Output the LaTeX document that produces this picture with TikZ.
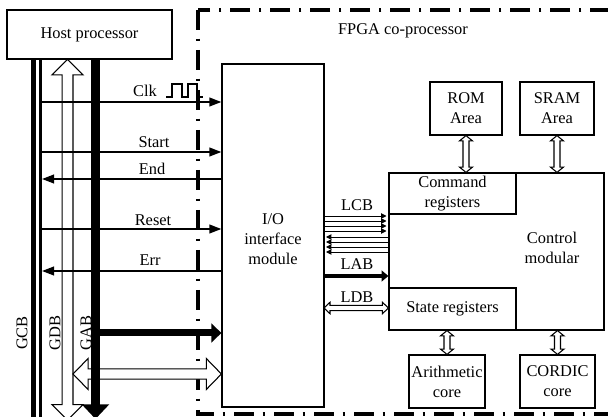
\documentclass[tikz,border=0pt]{standalone}
\usepackage{fontspec}
\setmainfont{Liberation Serif}
\usetikzlibrary{arrows.meta,calc}
\newcommand\hollowV[5]{%
  \draw[line width=0.8pt, fill=white] let \p1=(#1), \p2=(#2) in
  (\x1,\y1) -- (\x1+#4,\y1-#5) -- (\x1+#3,\y1-#5) -- (\x2+#3,\y2+#5) -- (\x2+#4,\y2+#5) -- (\x2,\y2)
  -- (\x2-#4,\y2+#5) -- (\x2-#3,\y2+#5) -- (\x1-#3,\y1-#5) -- (\x1-#4,\y1-#5) -- cycle;}
\newcommand\hollowH[5]{%
  \draw[line width=0.8pt, fill=white] let \p1=(#1), \p2=(#2) in
  (\x1,\y1) -- (\x1+#5,\y1+#4) -- (\x1+#5,\y1+#3) -- (\x2-#5,\y2+#3) -- (\x2-#5,\y2+#4) -- (\x2,\y2)
  -- (\x2-#5,\y2-#4) -- (\x2-#5,\y2-#3) -- (\x1+#5,\y1-#3) -- (\x1+#5,\y1-#4) -- cycle;}
\begin{document}
\begin{tikzpicture}[x=0.75pt,y=-0.75pt,
  font=\fontsize{12.3}{15}\selectfont,
  box/.style={draw, line width=0.9pt, inner sep=0pt, align=center, fill=white},
  lbl/.style={inner sep=0pt, align=center},
  sig/.style={line width=1.4pt},
  tipR/.style={-{Triangle[length=9pt,width=6.5pt]}},
  small/.style={line width=0.7pt, -{Triangle[length=4pt,width=4pt]}},
  frame/.style={line width=2.6pt, dash pattern=on 15pt off 6.5pt on 2pt off 6.5pt}]
\useasboundingbox (0,0) rectangle (608,417);

% FPGA frame
\draw[frame] (198,10) rectangle (640,414);
\node[lbl] (fpgal) at (403,31) {FPGA co-processor};

% boxes
\node[box, minimum width=123.75pt, minimum height=36.75pt] (host) at (89.5,34.5) {Host processor};
\node[box, minimum width=76.5pt, minimum height=257.25pt] (io) at (273,235.5) {};
\node[lbl] (iol) at (273,239.5) {I/O\\interface\\module};
\node[box, minimum width=161.25pt, minimum height=117.75pt] (ctrl) at (496.5,251.5) {};
\node[lbl] (ctrll) at (552,248) {Control\\modular};
\node[box, minimum width=95.25pt, minimum height=30.75pt] (cmd) at (452.5,193.5) {Command\\registers};
\node[box, minimum width=95.25pt, minimum height=31.5pt] (state) at (452.5,309) {State registers};
\node[box, minimum width=54pt, minimum height=39.75pt] (rom) at (466,108.5) {ROM\\Area};
\node[box, minimum width=55.5pt, minimum height=39.75pt] (sram) at (557,108.5) {SRAM\\Area};
\node[box, minimum width=57pt, minimum height=39.75pt] (arith) at (447,381.5) {Arithmetic\\core};
\node[box, minimum width=56.25pt, minimum height=39.75pt] (cordic) at (557.5,381.5) {CORDIC\\core};

% global buses
\coordinate (gcbAt) at (33.5,59);  \coordinate (gcbAb) at (33.5,420);
\coordinate (gcbBt) at (40.5,59);  \coordinate (gcbBb) at (40.5,420);
\draw[line width=3.2pt] (gcbAt) -- (gcbAb);
\draw[line width=2.3pt] (gcbBt) -- (gcbBb);
\coordinate (gdbt) at (67.5,59.5); \coordinate (gdbb) at (67.5,420);
\hollowV{gdbt}{gdbb}{4.1pt}{11.6pt}{11.5pt}
\node[lbl, rotate=90] (gcbl) at (22,333) {GCB};
\node[lbl, rotate=90] (gdbl) at (55,333) {GDB};
\node[lbl, rotate=90] (gabl) at (86,333) {GAB};

% signals
\coordinate (clkL) at (40.5,102);
\coordinate (startL) at (40.5,152);
\coordinate (endL) at (42,179);
\coordinate (resetL) at (40.5,229);
\coordinate (errL) at (42,271);
\draw[sig,tipR] (clkL) -- (clkL -| io.west);
\draw[sig,tipR] (startL) -- (startL -| io.west);
\draw[sig,tipR] (endL -| io.west) -- (endL);
\draw[sig,tipR] (resetL) -- (resetL -| io.west);
\draw[sig,tipR] (errL -| io.west) -- (errL);
\node[lbl] (clkl) at (145,91) {Clk};
\node[lbl] (startl) at (154,142) {Start};
\node[lbl] (endl) at (152,169) {End};
\node[lbl] (resetl) at (153,220) {Reset};
\node[lbl] (errl) at (150,260) {Err};
\draw[line width=0.8pt] (166,97) -- (172,97) -- (172,84) -- (182,84) -- (182,97) -- (188,97)
  -- (188,84) -- (197,84) -- (197,97) -- (203,97);

% GDB horizontal
\coordinate (gdbh) at (73,374);
\hollowH{gdbh}{gdbh -| io.west}{3.8pt}{11.6pt}{11.3pt}

% GAB
\coordinate (gabt) at (95.5,59); \coordinate (gabb) at (95.5,419);
\coordinate (gabh) at (95.5,333);
\draw[line width=5.25pt, -{Triangle[length=7.5pt,width=14pt]}] (gabh) -- (gabh -| io.west);
\draw[line width=6.75pt, -{Triangle[length=11pt,width=20pt]}] (gabt) -- (gabb);

% local buses
\foreach \y [count=\i] in {216,221,226,231} {
  \coordinate (lcbR\i) at (324,\y);
  \draw[small] (lcbR\i) -- ++(62.5,0);
}
\foreach \y [count=\i] in {237,242,247,252} {
  \coordinate (lcbL\i) at (389,\y);
  \draw[small] (lcbL\i) -- (lcbL\i -| 326,0);
}
\node[lbl] (lcbl) at (357,205) {LCB};
\coordinate (labL) at (324,276);
\draw[line width=3pt, -{Triangle[length=5pt,width=8pt]}] (labL) -- (labL -| ctrl.west);
\node[lbl] (labl) at (357,264) {LAB};
\coordinate (ldbL) at (324,308);
\hollowH{ldbL}{ldbL -| ctrl.west}{2pt}{4.3pt}{4.5pt}
\node[lbl] (ldbl) at (357,297) {LDB};

% memory / core arrows
\hollowV{rom.south}{cmd.north -| rom.south}{2.25pt}{4.9pt}{4pt}
\hollowV{sram.south}{sram.south |- ctrl.north}{2.25pt}{4.9pt}{4pt}
\hollowV{arith.north |- state.south}{arith.north}{2.25pt}{4.9pt}{4pt}
\hollowV{cordic.north |- ctrl.south}{cordic.north}{2.25pt}{4.9pt}{4pt}
\end{tikzpicture}
\end{document}
